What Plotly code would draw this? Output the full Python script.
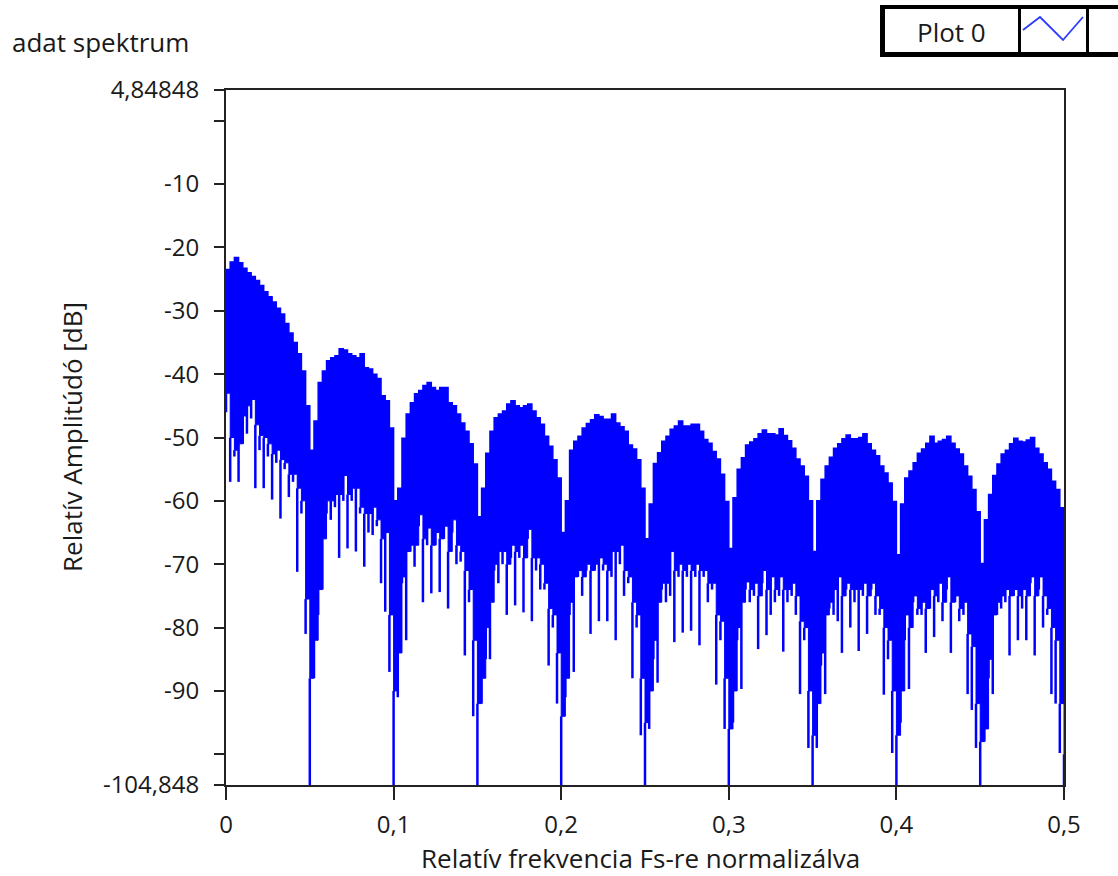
import numpy as np
import plotly.graph_objects as go

# Frequency bins (relative to Fs), 0 .. 0.5 in steps of 0.0025
FREQ = np.round(np.arange(201) * 0.0025, 4)

# Upper envelope of the spectrum [dB], one row per lobe (20 bins each) + last bin
TOP = [
    -23.5, -22.3, -21.6, -22.4, -23.3, -24.0, -24.6, -25.2, -26.0, -27.0,
    -27.8, -28.6, -29.6, -30.5, -32.0, -33.5, -35.0, -36.8, -39.5, -45.0,
    -52.0, -47.4, -41.3, -39.5, -37.9, -37.4, -37.1, -36.0, -36.2, -36.8,
    -37.1, -37.4, -36.8, -39.0, -39.2, -40.0, -40.7, -43.4, -44.2, -48.5,
    -60.0, -58.0, -50.1, -46.3, -44.5, -43.1, -42.6, -41.8, -41.3, -42.1,
    -42.6, -42.1, -42.1, -44.5, -45.0, -46.3, -47.7, -49.0, -51.0, -54.2,
    -62.5, -58.0, -52.5, -49.0, -46.9, -46.3, -45.8, -44.7, -44.2, -45.0,
    -45.3, -45.0, -44.7, -45.8, -46.9, -47.9, -49.8, -51.4, -53.5, -56.4,
    -65.0, -60.0, -52.0, -50.6, -49.8, -48.5, -47.8, -47.2, -46.4, -46.7,
    -47.1, -47.1, -46.3, -47.7, -48.3, -49.0, -51.2, -51.8, -53.5, -58.0,
    -66.0, -60.5, -54.1, -52.4, -50.6, -49.8, -48.7, -48.2, -47.4, -48.2,
    -48.2, -47.9, -47.9, -49.0, -50.3, -50.9, -52.2, -53.4, -55.8, -60.1,
    -67.5, -59.5, -55.0, -53.2, -51.2, -50.7, -50.2, -49.4, -48.8, -49.4,
    -49.4, -49.6, -48.6, -49.7, -50.5, -51.7, -53.4, -54.5, -56.1, -60.0,
    -68.0, -60.0, -56.6, -54.5, -53.1, -51.7, -51.0, -50.2, -49.6, -50.2,
    -50.2, -50.0, -49.4, -51.0, -52.0, -52.9, -54.5, -55.6, -57.2, -60.1,
    -68.5, -60.5, -56.4, -55.3, -54.0, -52.5, -51.8, -50.9, -49.8, -50.9,
    -50.6, -50.3, -49.8, -50.9, -51.8, -52.6, -54.5, -56.1, -58.2, -61.7,
    -69.9, -63.0, -59.0, -56.0, -54.2, -52.6, -52.0, -51.0, -50.1, -50.6,
    -50.7, -50.4, -50.0, -51.7, -52.6, -54.0, -55.0, -56.9, -58.2, -61.1,
    -78.0,
]

# Lower edge of the dense (solid) part of the trace [dB]
BODY = [
    -43, -50, -52, -51, -46.6, -45, -44, -48, -49.7, -50,
    -51, -52.6, -52, -53.5, -54, -55.8, -55.8, -58, -60, -75.5,
    -88, -82, -74, -66, -60, -60, -59, -59, -56, -59,
    -58, -58, -61, -62, -62, -61, -63, -66, -65, -78,
    -90, -84, -72, -68, -67, -67, -62.2, -66, -64.3, -67,
    -65, -66, -64, -68, -63, -67, -68, -71, -74, -82,
    -92, -88, -80, -76, -70, -68, -68, -70, -67, -68,
    -67, -69, -64.5, -69, -69, -70, -73, -77, -78, -84,
    -94, -88, -76, -72, -71, -72, -70, -71, -70, -69,
    -70, -71, -68, -68, -67, -71, -72, -76, -78, -88,
    -95, -90, -82, -76, -73, -73, -68, -71, -70, -71,
    -70, -71, -70, -71, -71, -73, -73, -78, -79, -88,
    -96, -90, -80, -76, -72.8, -74, -73, -75, -71, -74,
    -72, -74, -72, -74, -74, -73, -75, -79, -80, -90,
    -97, -92, -84, -78, -76, -74, -72, -75, -73, -74,
    -74, -74, -73, -75, -73, -75, -77, -80, -82, -90,
    -97, -90, -78, -80, -75, -77, -76, -77, -74, -75,
    -73, -76, -72, -76, -75, -77, -76, -81, -83, -92,
    -98, -96, -85, -78, -76, -75, -74, -75, -74, -75,
    -74, -75, -72, -75, -72, -75, -77, -80, -82, -92,
    -100,
]

# Deepest value reached in each bin (narrow downward spikes) [dB]
SPIKE = [
    -46, -57, -53, -57, -51, -49.4, -47, -58, -52, -58,
    -53, -59.8, -54, -62.8, -55, -59.4, -57, -71.2, -62, -81,
    -104.848, -88, -78, -74, -62, -63, -61, -69, -60, -67.5,
    -60, -68, -62, -70.4, -65, -65.4, -64, -73, -77.5, -87,
    -104.848, -91, -73, -82, -68, -70.4, -64, -76, -67, -74.6,
    -67, -74.4, -66, -77, -65, -70, -69.6, -84.4, -76, -94,
    -104.848, -92, -85, -85, -71, -73, -70, -78, -69, -76.5,
    -69, -77.6, -66, -79, -71, -74, -74, -86, -80, -92,
    -104.848, -91, -78, -87, -72, -75, -71, -81, -71, -79,
    -71, -79, -72, -82, -70, -75, -73, -88, -80, -97,
    -104.848, -96, -85, -88.7, -74, -76, -75, -82.3, -72, -80.8,
    -72, -80.5, -72, -82.8, -72, -76, -74, -89, -82, -96,
    -104.848, -95, -82, -89.7, -74, -76, -75, -83.4, -73, -81.2,
    -78, -76, -75, -83.8, -76, -75, -78, -90.5, -82, -99,
    -104.848, -99, -86, -90.5, -77, -78, -79, -84, -74, -80,
    -76, -83.7, -75, -81, -74, -78, -78, -90.6, -85, -99.8,
    -104.848, -95, -82, -89.7, -76, -78, -78, -84, -77, -81.5,
    -76, -79, -74, -84, -76, -79, -78, -90.5, -93, -99,
    -104.848, -98, -88, -90.5, -78, -77, -76, -84.4, -75, -82,
    -77, -82, -73, -84.4, -74, -80, -78, -90.5, -92, -99.8,
    -104.848,
]

X_TICKS = [0, 0.1, 0.2, 0.3, 0.4, 0.5]
X_TICKTEXT = ["0", "0,1", "0,2", "0,3", "0,4", "0,5"]
Y_TICKS = [4.84848, 0, -10, -20, -30, -40, -50, -60, -70, -80, -90, -100, -104.848]
Y_TICKTEXT = ["4,84848", "", "-10", "-20", "-30", "-40", "-50", "-60",
              "-70", "-80", "-90", "", "-104,848"]

BLUE = "#0000FF"
INK = "#1a1a1a"
FONT = "Open Sans"

# page geometry (pixels) used for the decorations around the plot
W, H = 1118, 876
ML, MR, MT, MB = 226, 54, 90, 91
PW, PH = W - ML - MR, H - MT - MB


def px(x):
    return (x - ML) / PW


def py(y):
    return (H - MB - y) / PH


fig = go.Figure()

# solid body of the spectrum: band between lower edge and upper envelope
fig.add_trace(go.Scatter(x=FREQ, y=BODY, mode="lines", line=dict(color=BLUE, width=1, shape="hv"),
                         hoverinfo="skip"))
fig.add_trace(go.Scatter(x=FREQ, y=TOP, mode="lines", fill="tonexty", fillcolor=BLUE,
                         line=dict(color=BLUE, width=1.5, shape="hv"), name="Plot 0"))

# narrow downward spikes below the body
sx, sy = [], []
for f, b, s in zip(FREQ, BODY, SPIKE):
    if s < b:
        sx += [f, f, None]
        sy += [b, s, None]
fig.add_trace(go.Scatter(x=sx, y=sy, mode="lines", line=dict(color=BLUE, width=2.5),
                         hoverinfo="skip"))

axis_common = dict(
    showline=True, linewidth=2, linecolor="#222222", mirror=True,
    ticks="outside", tickwidth=2, tickcolor="#222222",
    showgrid=False, zeroline=False,
    tickfont=dict(family=FONT, size=24, color=INK),
)

fig.update_xaxes(range=[0, 0.5], tickmode="array", tickvals=X_TICKS, ticktext=X_TICKTEXT,
                 ticklen=13, ticklabelstandoff=4, **axis_common)
fig.update_yaxes(range=[-104.848, 4.84848], tickmode="array", tickvals=Y_TICKS,
                 ticktext=Y_TICKTEXT, ticklen=10, ticklabelstandoff=10, **axis_common)

annotations = [
    dict(text="adat spektrum", x=px(10), y=py(42), xanchor="left", yanchor="middle",
         font=dict(family=FONT, size=26, color=INK)),
    dict(text="Relatív frekvencia Fs-re normalizálva", x=px(640), y=py(858),
         xanchor="center", yanchor="middle", font=dict(family=FONT, size=26, color=INK)),
    dict(text="Relatív Amplitúdó [dB]", x=px(72), y=py(437), textangle=-90,
         xanchor="center", yanchor="middle", font=dict(family=FONT, size=26, color=INK)),
    dict(text="Plot 0", x=px(951), y=py(32), xanchor="center", yanchor="middle",
         font=dict(family=FONT, size=26, color=INK)),
]
for a in annotations:
    a.update(xref="paper", yref="paper", showarrow=False)

# plot legend box (label cell, line-style cell, spare cell)
shapes = [
    dict(type="rect", x0=px(880), x1=px(1130), y0=py(57), y1=py(5),
         fillcolor="#000000", line=dict(width=0)),
    dict(type="rect", x0=px(885), x1=px(1018), y0=py(52), y1=py(9),
         fillcolor="#ffffff", line=dict(width=0)),
    dict(type="rect", x0=px(1021), x1=px(1086), y0=py(52), y1=py(9),
         fillcolor="#ffffff", line=dict(width=0)),
    dict(type="rect", x0=px(1089), x1=px(1130), y0=py(52), y1=py(9),
         fillcolor="#ffffff", line=dict(width=0)),
    dict(type="path",
         path=f"M {px(1023)},{py(30)} L {px(1040)},{py(17)} L {px(1063)},{py(40)} L {px(1083)},{py(17)}",
         line=dict(color="#2b3bff", width=1.8)),
]
for s in shapes:
    s.update(xref="paper", yref="paper", layer="above")

fig.update_layout(
    width=W, height=H,
    margin=dict(l=ML, r=MR, t=MT, b=MB),
    paper_bgcolor="white", plot_bgcolor="white",
    showlegend=False,
    annotations=annotations,
    shapes=shapes,
)

fig.write_html("out.html")
